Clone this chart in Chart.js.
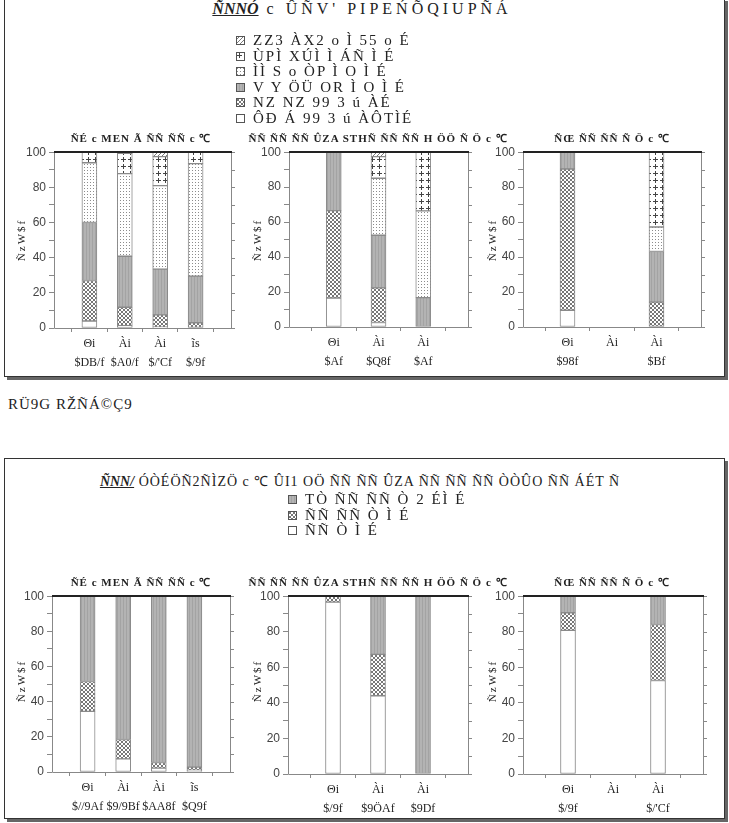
<!DOCTYPE html>
<html><head><meta charset="utf-8">
<script src="https://cdn.jsdelivr.net/npm/chart.js@4/dist/chart.umd.min.js"></script>
<style>
body{margin:0;background:#fff;}
#root{position:relative;width:729px;height:823px;overflow:hidden;background:#fff;font-family:"Liberation Serif",serif;color:#222;}
.box{position:absolute;left:4px;width:719px;border:1px solid #333;box-shadow:3px 3px 0 #666;background:#fff;}
.t{position:absolute;white-space:nowrap;}
.ctr{transform:translateX(-50%);}
.rot{transform:translate(-50%,-50%) rotate(-90deg);}
canvas.ch{position:absolute;}
.lg{position:absolute;white-space:nowrap;font-size:15px;letter-spacing:2px;line-height:15.5px;}
.lg div{height:15.5px;display:flex;align-items:center;}
.lg canvas{margin-right:8px;}
</style></head>
<body><div id="root">
<div class="box" style="top:-2px;height:377px;"></div>
<div class="box" style="top:458px;height:359px;"></div>
</div>
<script>
// ---------- data ----------
const topSeries = ["ZZ3 ÀX2 o Ì 55 o É","ÙPÌ XÚÌ Ì ÁÑ Ì É","ÌÌ S o ÒP Ì O Ì É","V Y ÖÜ OR Ì O Ì É","NZ NZ 99 3 ú ÀÉ","ÔÐ Á 99 3 ú ÀÔTÌÉ"];
const bottomSeries = ["TÒ ÑÑ ÑÑ Ò 2 ÉÌ É","ÑÑ ÑÑ Ò Ì É","ÑÑ Ò Ì É"];
const panelTitles = ["ÑÉ c MEN Ã ÑÑ ÑÑ c ℃","ÑÑ ÑÑ ÑÑ ÛZA STHÑ ÑÑ ÑÑ H ÖÖ Ñ Ö c ℃","ÑŒ ÑÑ ÑÑ Ñ Ö c ℃"];
const yTitle = "ÑzW$f";

const cat1 = [["Θi","$DB/f"],["Ài","$A0/f"],["Ài","$/'Cf"],["ĩs","$/9f"]];
const cat2 = [["Θi","$Af"],["Ài","$Q8f"],["Ài","$Af"]];
const cat3 = [["Θi","$98f"],["Ài",""],["Ài","$Bf"]];
const cat4 = [["Θi","$//9Af"],["Ài","$9/9Bf"],["Ài","$AA8f"],["ĩs","$Q9f"]];
const cat5 = [["Θi","$/9f"],["Ài","$9ÖAf"],["Ài","$9Df"]];
const cat6 = [["Θi","$/9f"],["Ài",""],["Ài","$/'Cf"]];

// top panels: segment heights (%), bottom to top: white, cross, gray, dots, plus, diag
const c1White=[4,1.3,0.5,0], c1Cross=[23,10.5,7,3], c1Gray=[33,29,26,26.5], c1Dots=[34,47,47.5,64], c1Plus=[6,11.5,16.5,6.5], c1Diag=[0,0.7,2.5,0];
const c2White=[16.6,2.6,0], c2Cross=[50,19.8,0], c2Gray=[33.4,30.1,16.8], c2Dots=[0,32.6,49.6], c2Plus=[0,12.4,33.6], c2Diag=[0,2.5,0];
const c3White=[9.6,null,0], c3Cross=[80.8,null,14.2], c3Gray=[9.6,null,29], c3Dots=[0,null,14], c3Plus=[0,null,42.8], c3Diag=[0,null,0];
// bottom panels: white, cross, gray
const c4White=[34.5,7.5,2.2,1], c4Cross=[17,11,3.2,1.8], c4Gray=[48.5,81.5,94.6,97.2];
const c5White=[96.7,44,0], c5Cross=[3.3,23.3,0], c5Gray=[0,32.7,100];
const c6White=[80.8,null,52.6], c6Cross=[9.9,null,31.5], c6Gray=[9.3,null,15.9];
const yTicks=[0,20,40,60,80,100];

// ---------- patterns ----------
function tile(w,h,bg,fn){const c=document.createElement('canvas');c.width=w;c.height=h;const g=c.getContext('2d');g.fillStyle=bg;g.fillRect(0,0,w,h);fn(g);return c;}
function px(g,col,pts){g.fillStyle=col;pts.forEach(p=>g.fillRect(p[0],p[1],1,1));}
const tmp=document.createElement('canvas').getContext('2d');
const tiles={
 white:tile(4,4,'#fff',g=>{}),
 cross:tile(4,4,'#fff',g=>{px(g,'#777',[[0,0],[1,1],[2,2],[3,3],[3,0],[2,1],[1,2],[0,3]]);}),
 gray:tile(3,3,'#b3b3b3',g=>{g.fillStyle='#a3a3a3';g.fillRect(0,0,1,3);}),
 dots:tile(3,3,'#fff',g=>{px(g,'#8c8c8c',[[1,1]]);}),
 plus:tile(7,7,'#fff',g=>{g.fillStyle='#444';g.fillRect(3,1,1,5);g.fillRect(1,3,5,1);}),
 diag:tile(4,4,'#fff',g=>{px(g,'#7a7a7a',[[3,0],[2,1],[1,2],[0,3]]);})
};
const pat={};for(const k in tiles){pat[k]=tmp.createPattern(tiles[k],'repeat');}

// ---------- layout helpers ----------
const root=document.getElementById('root');
function addText(txt,x,y,css,cls){const d=document.createElement('div');d.className='t '+(cls||'');d.textContent=txt;d.style.left=x+'px';d.style.top=y+'px';d.style.cssText+=css||'';root.appendChild(d);return d;}
function swatch(k){const c=document.createElement('canvas');c.width=9;c.height=9;const g=c.getContext('2d');g.fillStyle=g.createPattern(tiles[k],'repeat');g.fillRect(0,0,9,9);g.strokeStyle='#555';g.lineWidth=1;g.strokeRect(0.5,0.5,8,8);return c;}
function legend(x,y,names,keys){const d=document.createElement('div');d.className='lg';d.style.left=x+'px';d.style.top=y+'px';names.forEach((n,i)=>{const r=document.createElement('div');r.appendChild(swatch(keys[i]));const s=document.createElement('span');s.textContent=n;r.appendChild(s);d.appendChild(r);});root.appendChild(d);}

// titles
const tt=addText('',362,0,'font-size:16px;letter-spacing:4px;','ctr');
tt.innerHTML='<span style="font-weight:bold;font-style:italic;text-decoration:underline;letter-spacing:0">ÑNNÓ</span>  c ÛÑV\' PIPEŃÕQIUPÑÁ';
legend(236,33,topSeries,['diag','plus','dots','gray','cross','white']);
addText('RÜ9G  RŽÑÁ©Ç9',8,396,'font-size:15px;letter-spacing:1px;');
const tb=addText('',360,471,'font-size:14px;letter-spacing:1px;','ctr');
tb.innerHTML='<span style="font-weight:bold;font-style:italic;text-decoration:underline;letter-spacing:0">ÑNN/</span>  ÓÒÉÖÑ2ÑÌZÖ c ℃ ÛI1 OÖ ÑÑ ÑÑ ÛZA ÑÑ ÑÑ ÑÑ ÒÒÛO ÑÑ ÁÉT Ñ';
legend(288,492,bottomSeries,['gray','cross','white']);

// ---------- charts ----------
const framePlugin={id:'frame',afterDraw(ch){const a=ch.chartArea,g=ch.ctx;g.save();g.strokeStyle='#888';g.lineWidth=1;g.beginPath();
 g.moveTo(Math.round(a.left)+0.5,a.top);g.lineTo(Math.round(a.left)+0.5,Math.round(a.bottom)+0.5);g.lineTo(Math.round(a.right)+0.5,Math.round(a.bottom)+0.5);g.lineTo(Math.round(a.right)+0.5,a.top);g.stroke();
 const ys=ch.scales.y;g.beginPath();for(let v=0;v<=100;v+=10){const y=Math.round(ys.getPixelForValue(v))+0.5;g.moveTo(Math.round(a.right),y);g.lineTo(Math.round(a.right)+4,y);}g.stroke();
 g.strokeStyle='#222';g.lineWidth=2;g.beginPath();g.moveTo(a.left,Math.round(a.top));g.lineTo(Math.round(a.right)+1,Math.round(a.top));g.stroke();g.restore();}};

function makeChart(L,R,T,B,cats,series){
 const c=document.createElement('canvas');c.className='ch';
 const left=L-46,top=T-8,w=R-L+56,h=B-T+58;
 c.width=w;c.height=h;c.style.left=left+'px';c.style.top=top+'px';c.style.width=w+'px';c.style.height=h+'px';
 root.appendChild(c);
 const labels=[''].concat(cats,['']);
 const datasets=series.map(s=>({data:[null].concat(s.v.map(v=>(v&&v>0)?v:null),[null]),backgroundColor:pat[s.k],borderColor:'#8a8a8a',borderWidth:1,barThickness:15,borderSkipped:false}));
 new Chart(c,{type:'bar',data:{labels,datasets},plugins:[framePlugin],options:{responsive:false,animation:false,events:[],
  layout:{padding:{top:8,right:10,left:0,bottom:0}},
  plugins:{legend:{display:false},tooltip:{enabled:false},title:{display:false}},
  scales:{
   x:{stacked:true,offset:false,border:{display:false},grid:{drawOnChartArea:false,drawTicks:true,tickLength:4,color:'#888'},
      ticks:{autoSkip:false,maxRotation:0,minRotation:0,padding:2,color:'#222',font:{family:'Liberation Serif',size:12,lineHeight:1.6}},
      afterFit(s){s.height=50;}},
   y:{stacked:true,min:0,max:100,border:{display:false},grid:{drawOnChartArea:false,tickLength:5,color:'#888'},
      ticks:{stepSize:10,padding:3,color:'#444',font:{family:'Liberation Sans',size:12},callback:v=>yTicks.includes(v)?String(v):''},
      afterFit(s){s.width=46;}}
  }}});
}
function topSer(w,c,g,d,p,di){return [{k:'white',v:w},{k:'cross',v:c},{k:'gray',v:g},{k:'dots',v:d},{k:'plus',v:p},{k:'diag',v:di}];}
function botSer(w,c,g){return [{k:'white',v:w},{k:'cross',v:c},{k:'gray',v:g}];}

makeChart(54,231,150,328,cat1,topSer(c1White,c1Cross,c1Gray,c1Dots,c1Plus,c1Diag));
makeChart(289,468,150,327,cat2,topSer(c2White,c2Cross,c2Gray,c2Dots,c2Plus,c2Diag));
makeChart(523,701,150,327,cat3,topSer(c3White,c3Cross,c3Gray,c3Dots,c3Plus,c3Diag));
makeChart(52,230,594,772,cat4,botSer(c4White,c4Cross,c4Gray));
makeChart(288,468,594,774,cat5,botSer(c5White,c5Cross,c5Gray));
makeChart(523,703,594,774,cat6,botSer(c6White,c6Cross,c6Gray));

// panel titles and y titles
[[141,130],[378,130],[612,130],[141,574],[378,574],[612,574]].forEach((p,i)=>addText(panelTitles[i%3],p[0],p[1],'font-size:11px;letter-spacing:1px;font-weight:bold;','ctr'));
[[21,240],[257,240],[492,240],[21,681],[257,681],[492,681]].forEach(p=>addText(yTitle,p[0],p[1],'font-size:11px;letter-spacing:2px;','rot'));
</script></body></html>
